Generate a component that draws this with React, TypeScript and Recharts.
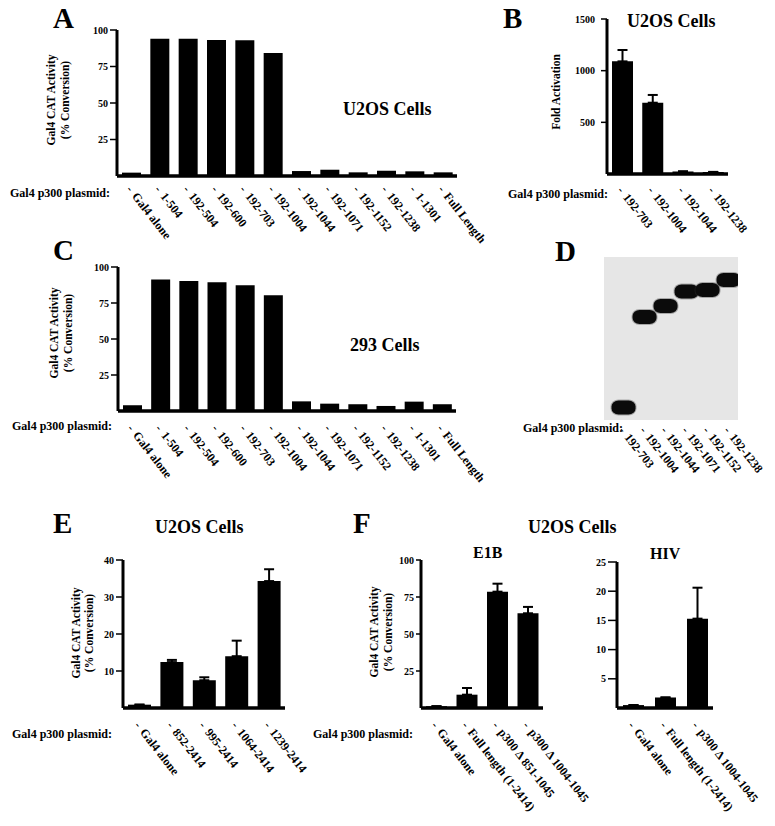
import React from "react";
import {
  BarChart,
  Bar,
  XAxis,
  YAxis,
  ErrorBar,
  ScatterChart,
  Scatter,
  ReferenceArea,
} from "recharts";

const SERIF = '"Liberation Serif", "Times New Roman", serif';

// A / C: Gal4 p300 deletions, U2OS and 293 cells (% conversion)
const acPlasmids = [
  "Gal4 alone", "1-504", "192-504", "192-600", "192-703", "192-1004",
  "192-1044", "192-1071", "192-1152", "192-1238", "1-1301", "Full Length",
];
const aActivity = [2.3, 94, 94, 93.2, 93, 84.3, 3.4, 4.3, 2.5, 3.6, 3.2, 2.5];
const cActivity = [4, 91.4, 90.3, 89.4, 87.3, 80.3, 6.7, 5.1, 4.7, 3.5, 6.5, 4.7];
const pctTicks = [25, 50, 75, 100];

// B: fold activation
const bPlasmids = ["192-703", "192-1004", "192-1044", "192-1238"];
const bFold = [1090, 690, 25, 20];
const bFoldErr = [110, 75, 0, 0];
const bTicks = [500, 1000, 1500];

// D: western blot, band position as % of gel length from the top
const dPlasmids = ["192-703", "192-1004", "192-1044", "192-1071", "192-1152", "192-1238"];
const dMigration = [92.3, 36.8, 30.1, 21.2, 20.2, 14.1];

// E: N-terminal deletions
const ePlasmids = ["Gal4 alone", "852-2414", "995-2414", "1064-2414", "1239-2414"];
const eActivity = [0.9, 12.4, 7.5, 14.0, 34.3];
const eErr = [0, 0.6, 0.8, 4.2, 3.2];
const eTicks = [10, 20, 30, 40];

// F: E1B and HIV reporters
const f1Plasmids = ["Gal4 alone", "Full length (1-2414)", "p300 \u0394 851-1045", "p300 \u0394 1004-1045"];
const f1Activity = [1.2, 9.0, 78.6, 64.0];
const f1Err = [0, 4.5, 5.4, 4.3];
const f2Plasmids = ["Gal4 alone", "Full length (1-2414)", "p300 \u0394 1004-1045"];
const f2Activity = [0.5, 1.8, 15.3];
const f2Err = [0, 0, 5.3];
const hivTicks = [5, 10, 15, 20, 25];

const Y_W = 90;
const X_H = 140;
const PAD_T = 12;
const PAD_R = 140; // room for the slanted labels, plot edge is set by x1

function SlantTick(props: any) {
  const { x, y, payload, dy } = props;
  return (
    <g transform={`translate(${x - 2},${y + dy})`}>
      <text
        transform="rotate(52)"
        x={0}
        y={0}
        dominantBaseline="central"
        fontFamily={SERIF}
        fontWeight="bold"
        fontSize={12}
        fill="#000"
      >
        <tspan>-</tspan>
        <tspan dx={5}>{payload.value}</tspan>
      </text>
    </g>
  );
}

function BarPanel(p: any) {
  const data = p.names.map((name: string, i: number) => ({
    name,
    value: p.values[i],
    err: p.errors ? [0, p.errors[i]] : [0, 0],
  }));
  const width = p.x1 - p.x0 + Y_W + PAD_R;
  const height = p.base - p.top + PAD_T + X_H;
  return (
    <div style={{ position: "absolute", left: p.x0 - Y_W, top: p.top - PAD_T }}>
      <BarChart
        width={width}
        height={height}
        data={data}
        margin={{ top: PAD_T, right: PAD_R, left: 0, bottom: 0 }}
      >
        <XAxis
          dataKey="name"
          height={X_H}
          interval={0}
          axisLine={{ stroke: "#000", strokeWidth: 3.5 }}
          tickLine={false}
          tickSize={0}
          tickMargin={0}
          tick={(t: any) => <SlantTick {...t} dy={p.labelDy} />}
        />
        <YAxis
          width={Y_W}
          domain={p.domain}
          ticks={p.ticks}
          allowDataOverflow
          axisLine={{ stroke: "#000", strokeWidth: 3 }}
          tickLine={{ stroke: "#000", strokeWidth: 1.5 }}
          tickSize={p.tickSize}
          tickMargin={p.tickMargin}
          tick={{ fontSize: 10, fontFamily: SERIF, fontWeight: "bold", fill: "#000" }}
        />
        <Bar dataKey="value" fill="#000" barSize={p.barSize} isAnimationActive={false}>
          {p.errors && (
            <ErrorBar dataKey="err" width={5} stroke="#000" strokeWidth={2} />
          )}
        </Bar>
      </BarChart>
    </div>
  );
}

const GelBand = (props: any) => (
  <g>
    <rect x={props.cx - 13} y={props.cy - 8} width={26} height={16} rx={8} ry={7} fill="#333" opacity={0.35} />
    <rect x={props.cx - 12} y={props.cy - 7} width={24} height={14} rx={7} ry={6} fill="#0b0b0b" />
  </g>
);

function GelPanel() {
  const data = dPlasmids.map((name, i) => ({ lane: i, migration: dMigration[i], name }));
  const x0 = 604, x1 = 738, top = 257, base = 420;
  return (
    <div style={{ position: "absolute", left: x0, top }}>
      <ScatterChart
        width={x1 - x0 + 60}
        height={base - top + 110}
        margin={{ top: 0, right: 60, left: 0, bottom: 0 }}
      >
        <XAxis
          type="number"
          dataKey="lane"
          domain={[-0.93, 5.45]}
          ticks={[0, 1, 2, 3, 4, 5]}
          interval={0}
          allowDataOverflow
          axisLine={false}
          tickLine={false}
          tickSize={0}
          tickMargin={0}
          height={110}
          tick={(t: any) => (
            <SlantTick {...t} payload={{ value: dPlasmids[t.payload.value] }} dy={8} />
          )}
        />
        <YAxis type="number" dataKey="migration" domain={[0, 100]} reversed hide width={0} />
        <ReferenceArea x1={-0.93} x2={5.45} y1={0} y2={100} fill="#e6e6e6" fillOpacity={1} stroke="none" />
        <Scatter data={data} isAnimationActive={false} shape={GelBand} />
      </ScatterChart>
    </div>
  );
}

function T({ x, y, size, children }: any) {
  return (
    <text x={x} y={y} fontFamily={SERIF} fontWeight="bold" fontSize={size} fill="#000">
      {children}
    </text>
  );
}

function VT({ x, cy, children }: any) {
  return (
    <text
      transform={`translate(${x},${cy}) rotate(-90)`}
      textAnchor="middle"
      fontFamily={SERIF}
      fontWeight="bold"
      fontSize={11.5}
      fill="#000"
    >
      {children}
    </text>
  );
}

export default function App() {
  return (
    <div style={{ position: "absolute", left: 0, top: 0, width: 775, height: 826, background: "#fff", overflow: "hidden" }}>
      <BarPanel names={acPlasmids} values={aActivity} x0={117} x1={457} top={30} base={176}
        domain={[0, 100]} ticks={pctTicks} barSize={19} tickSize={7} tickMargin={2} labelDy={11} />
      <BarPanel names={acPlasmids} values={cActivity} x0={118} x1={456} top={267} base={411}
        domain={[0, 100]} ticks={pctTicks} barSize={19} tickSize={7} tickMargin={2} labelDy={15} />
      <BarPanel names={bPlasmids} values={bFold} errors={bFoldErr} x0={607} x1={728} top={19} base={174}
        domain={[0, 1500]} ticks={bTicks} barSize={21} tickSize={6} tickMargin={6} labelDy={14} />
      <GelPanel />
      <BarPanel names={ePlasmids} values={eActivity} errors={eErr} x0={123} x1={285} top={560} base={708}
        domain={[0, 40]} ticks={eTicks} barSize={23} tickSize={7} tickMargin={2} labelDy={15} />
      <BarPanel names={f1Plasmids} values={f1Activity} errors={f1Err} x0={421} x1={543} top={560} base={708}
        domain={[0, 100]} ticks={pctTicks} barSize={21} tickSize={5} tickMargin={2} labelDy={15} />
      <BarPanel names={f2Plasmids} values={f2Activity} errors={f2Err} x0={617} x1={713} top={562} base={708}
        domain={[0, 25]} ticks={hivTicks} barSize={21} tickSize={9} tickMargin={2} labelDy={15} />

      <svg width={775} height={826} style={{ position: "absolute", left: 0, top: 0, pointerEvents: "none" }}>
        <T x={53} y={28} size={29}>A</T>
        <T x={503} y={28} size={29}>B</T>
        <T x={53} y={260} size={29}>C</T>
        <T x={555} y={261} size={29}>D</T>
        <T x={53} y={533} size={29}>E</T>
        <T x={353} y={533} size={29}>F</T>

        <T x={343} y={115} size={18}>U2OS Cells</T>
        <T x={627} y={27} size={18}>U2OS Cells</T>
        <T x={350} y={351} size={18}>293 Cells</T>
        <T x={155} y={533} size={18}>U2OS Cells</T>
        <T x={528} y={533} size={18}>U2OS Cells</T>
        <T x={473} y={558} size={16}>E1B</T>
        <T x={650} y={559} size={16}>HIV</T>

        <T x={10} y={197} size={12}>Gal4 p300 plasmid:</T>
        <T x={508} y={198} size={12}>Gal4 p300 plasmid:</T>
        <T x={12} y={430} size={12}>Gal4 p300 plasmid:</T>
        <T x={523} y={432} size={12}>Gal4 p300 plasmid:</T>
        <T x={12} y={738} size={12}>Gal4 p300 plasmid:</T>
        <T x={313} y={738} size={12}>Gal4 p300 plasmid:</T>

        <VT x={55} cy={100}>Gal4 CAT Activity</VT>
        <VT x={68.5} cy={100}>(% Conversion)</VT>
        <VT x={560} cy={92}>Fold Activation</VT>
        <VT x={57.5} cy={333}>Gal4 CAT Activity</VT>
        <VT x={72} cy={333}>(% Conversion)</VT>
        <VT x={79.5} cy={633}>Gal4 CAT Activity</VT>
        <VT x={92.5} cy={633}>(% Conversion)</VT>
        <VT x={377.5} cy={632}>Gal4 CAT Activity</VT>
        <VT x={392} cy={632}>(% Conversion)</VT>
      </svg>
    </div>
  );
}
